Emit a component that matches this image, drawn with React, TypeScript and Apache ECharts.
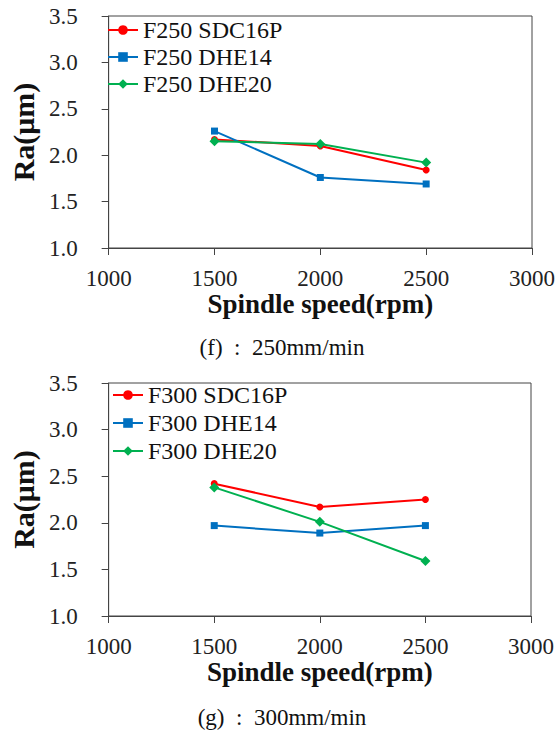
import React, { useEffect, useRef } from "react";
import * as echarts from "echarts";

const speeds = [1500, 2000, 2500];
const xTicks = [1000, 1500, 2000, 2500, 3000];
const yTicks = [1.0, 1.5, 2.0, 2.5, 3.0, 3.5];

const namesF250 = ["F250 SDC16P", "F250 DHE14", "F250 DHE20"];
const namesF300 = ["F300 SDC16P", "F300 DHE14", "F300 DHE20"];

const f250SDC16P = [2.17, 2.1, 1.84];
const f250DHE14 = [2.26, 1.76, 1.69];
const f250DHE20 = [2.15, 2.12, 1.92];

const f300SDC16P = [2.42, 2.17, 2.25];
const f300DHE14 = [1.97, 1.89, 1.97];
const f300DHE20 = [2.38, 2.01, 1.59];

const captions = ["(f)  :  250mm/min", "(g)  :  300mm/min"];

const colors = ["#FF0000", "#0070C0", "#00B050"];
const symbols = ["circle", "rect", "diamond"];
const symbolSizes = [7, 7, 10];

const FONT = "Liberation Serif, Times New Roman, serif";

export default function App() {
  const ref = useRef<HTMLDivElement>(null);
  useEffect(() => {
    if (!ref.current) return;
    const chart = echarts.init(ref.current, undefined, { renderer: "svg" });
    const zip = (ys: number[]) => speeds.map((x, i) => [x, ys[i]]);
    const groups = [
      { names: namesF250, values: [f250SDC16P, f250DHE14, f250DHE20] },
      { names: namesF300, values: [f300SDC16P, f300DHE14, f300DHE20] },
    ];
    const series: any[] = [];
    groups.forEach((g, gi) => {
      g.names.forEach((n, si) => {
        series.push({
          type: "line",
          name: n,
          xAxisIndex: gi,
          yAxisIndex: gi,
          data: zip(g.values[si]),
          symbol: symbols[si],
          symbolSize: symbolSizes[si],
          showSymbol: true,
          color: colors[si],
          lineStyle: { color: colors[si], width: 2 },
          itemStyle: { color: colors[si] },
        });
      });
    });
    const axisColor = "#444";
    const mkX = (gi: number) => ({
      type: "value",
      gridIndex: gi,
      min: xTicks[0],
      max: xTicks[xTicks.length - 1],
      interval: 500,
      name: "Spindle speed(rpm)",
      nameLocation: "middle",
      nameGap: 42,
      nameTextStyle: { fontFamily: FONT, fontWeight: "bold", fontSize: 27, color: "#111" },
      axisLine: { show: true, lineStyle: { color: axisColor, width: 1 } },
      axisTick: { show: true, length: 7, inside: false, lineStyle: { color: axisColor } },
      axisLabel: { fontFamily: FONT, fontSize: 23, color: "#222", margin: 19, formatter: (v: number) => String(v) },
      splitLine: { show: false },
    });
    const mkY = (gi: number) => ({
      type: "value",
      gridIndex: gi,
      min: yTicks[0],
      max: yTicks[yTicks.length - 1],
      interval: 0.5,
      name: "Ra(μm)",
      nameLocation: "middle",
      nameGap: 68,
      nameRotate: 90,
      nameTextStyle: { fontFamily: FONT, fontWeight: "bold", fontSize: 30, color: "#111" },
      axisLine: { show: true, lineStyle: { color: axisColor, width: 1 } },
      axisTick: { show: true, length: 7, inside: false, lineStyle: { color: axisColor } },
      axisLabel: {
        fontFamily: FONT,
        fontSize: 23,
        color: "#222",
        margin: 31,
        formatter: (v: number) => v.toFixed(1),
      },
      splitLine: { show: false },
    });
    const legendBase = {
      orient: "vertical",
      itemWidth: 30,
      itemHeight: 12,
      itemGap: 3,
      textStyle: { fontFamily: FONT, fontSize: 24, color: "#111" },
      backgroundColor: "transparent",
      padding: 0,
    };
    chart.setOption({
      animation: false,
      backgroundColor: "#fff",
      textStyle: { fontFamily: FONT },
      grid: [
        { left: 102, top: 16, width: 430, height: 232, show: true, borderColor: axisColor, borderWidth: 1, backgroundColor: "transparent" },
        { left: 104, top: 383, width: 427, height: 233, show: true, borderColor: axisColor, borderWidth: 1, backgroundColor: "transparent" },
      ],
      xAxis: [mkX(0), mkX(1)],
      yAxis: [mkY(0), mkY(1)],
      legend: [
        { ...legendBase, data: namesF250, left: 107, top: 18 },
        { ...legendBase, data: namesF300, left: 112, top: 383, itemGap: 4 },
      ],
      graphic: [
        {
          type: "text",
          x: 282,
          y: 347,
          style: { text: captions[0], fontFamily: FONT, fontSize: 23, fill: "#111", textAlign: "center", textVerticalAlign: "middle" },
        },
        {
          type: "text",
          x: 282,
          y: 717,
          style: { text: captions[1], fontFamily: FONT, fontSize: 23, fill: "#111", textAlign: "center", textVerticalAlign: "middle" },
        },
      ],
      series,
    });
    return () => chart.dispose();
  }, []);
  return (
    <div
      ref={ref}
      style={{ position: "fixed", left: 0, top: 0, width: 558, height: 731, background: "#fff" }}
    />
  );
}
